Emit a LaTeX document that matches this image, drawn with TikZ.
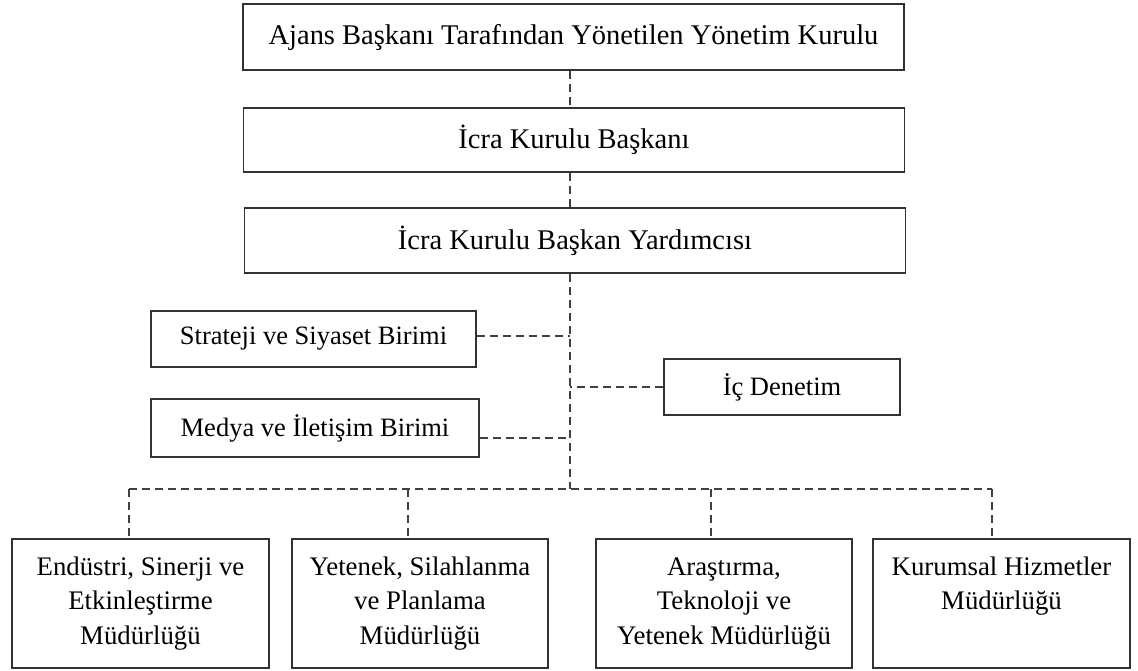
\documentclass[tikz,border=0pt]{standalone}
\usepackage{fontspec}
\setmainfont{Liberation Serif}
\begin{document}
\begin{tikzpicture}[x=1pt,y=-1pt,
  box/.style={draw=black!80, line width=1.4pt, rectangle, inner sep=0pt, fill=white},
  topbox/.style={box, minimum width=661pt, font=\fontsize{28.5}{34}\selectfont},
  sidebox/.style={box, font=\fontsize{26.5}{32}\selectfont},
  link/.style={draw=black!75, line width=1.6pt, dash pattern=on 8pt off 5pt}]
\useasboundingbox (0,0) rectangle (1138,670);
% top column
\node[topbox, minimum height=66pt] (t1) at (573.5,37) {Ajans Başkanı Tarafından Yönetilen Yönetim Kurulu};
\node[topbox, minimum height=64pt] (t2) at (574,140) {İcra Kurulu Başkanı};
\node[topbox, minimum height=65pt] (t3) at (575,240.5) {İcra Kurulu Başkan Yardımcısı};
% side units
\node[sidebox, minimum width=325pt, minimum height=56pt] (s) at (313.5,339) {Strateji ve Siyaset Birimi};
\node[sidebox, minimum width=328pt, minimum height=58pt] (m) at (315,428) {Medya ve İletişim Birimi};
\node[sidebox, minimum width=236pt, minimum height=56pt] (i) at (782,387) {İç Denetim};
% bottom directorates
\newcommand{\bxtext}[2]{\parbox[c][129pt][t]{#1}{\centering\fontsize{26.8}{34.5}\selectfont\rule{0pt}{36pt}#2}}
\node[box] (b1) at (140.5,603.5) {\bxtext{257pt}{Endüstri, Sinerji ve\\Etkinleştirme\\Müdürlüğü}};
\node[box] (b2) at (420,603.5) {\bxtext{256pt}{Yetenek, Silahlanma\\ve Planlama\\Müdürlüğü}};
\node[box] (b3) at (724,603.5) {\bxtext{256pt}{Araştırma,\\Teknoloji ve\\Yetenek Müdürlüğü}};
\node[box] (b4) at (1001.5,603.5) {\bxtext{257pt}{Kurumsal Hizmetler\\Müdürlüğü}};
% junctions
\coordinate (sp) at (570,489);
\coordinate (d1) at (129,489);
\coordinate (d2) at (408,489);
\coordinate (d3) at (711,489);
\coordinate (d4) at (992,489);
% connectors
\draw[link] (t1.south -| sp) -- (t2.north -| sp);
\draw[link] (t2.south -| sp) -- (t3.north -| sp);
\draw[link] (t3.south -| sp) -- (sp);
\draw[link] ([yshift=3pt]s.east) -- ([yshift=3pt]s.east -| sp);
\draw[link] (i.west) -- (i.west -| sp);
\draw[link] ([yshift=-10pt]m.east) -- ([yshift=-10pt]m.east -| sp);
\draw[link] (d1) -- (d4);
\draw[link] (d1) -- (d1 |- b1.north);
\draw[link] (d2) -- (d2 |- b2.north);
\draw[link] (d3) -- (d3 |- b3.north);
\draw[link] (d4) -- (d4 |- b4.north);
\end{tikzpicture}
\end{document}
